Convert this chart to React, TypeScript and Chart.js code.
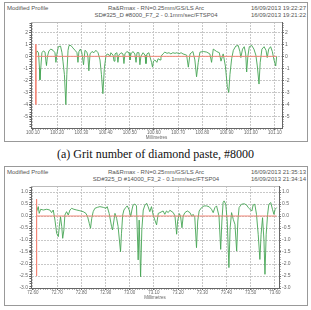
import React, { useEffect, useRef } from "react";
import { Chart, registerables } from "chart.js";

Chart.register(...registerables);

// ---------- texts ----------
const headerLeft = "Modified Profile";
const headerCenter1 = "Ra&Rmax - RN=0.25mm/GS/LS Arc";
const panel1Center2 = "SD#325_D #8000_F7_2 - 0.1mm/sec/FTSP04";
const panel1Times = ["16/09/2013 19:22:27", "16/09/2013 19:21:22"];
const panel2Center2 = "SD#325_D #14000_F3_2 - 0.1mm/sec/FTSP04";
const panel2Times = ["16/09/2013 21:35:13", "16/09/2013 21:34:14"];
const caption1 = "(a) Grit number of diamond paste, #8000";
const xAxisTitle = "Millimetres";

// ---------- ticks ----------
const xTicks1 = [100.1, 100.2, 100.3, 100.4, 100.5, 100.6, 100.7, 100.8, 100.9, 101.0, 101.1];
const yTicks1 = [2, 1, 0, -1, -2, -3, -4, -5];
const xTicks2 = [72.6, 72.7, 72.8, 72.9, 73.0, 73.1, 73.2, 73.3, 73.4, 73.5, 73.6];
const yTicks2 = [1, 0.5, 0, -0.5, -1, -1.5, -2, -2.5, -3];

// ---------- profile data: [position mm, height um] ----------
const profile1: [number, number][] = [
  [100.112, 0.1], [100.117, 0.45], [100.123, 0.3], [100.127, -1.0], [100.129, -1.95], [100.133, -0.8],
  [100.137, 0.3], [100.143, 0.45], [100.150, 0.35], [100.154, -0.5], [100.156, -0.75], [100.160, 0.0],
  [100.166, 0.45], [100.174, 0.6], [100.183, 0.5], [100.191, 0.3], [100.195, -0.5], [100.199, 0.2],
  [100.205, 0.8], [100.214, 0.85], [100.220, 0.3], [100.224, -0.4], [100.230, -1.5], [100.236, -4.0],
  [100.240, -1.5], [100.245, 0.5], [100.249, 0.9], [100.257, 0.9], [100.265, 0.7], [100.274, 0.5],
  [100.282, 0.3], [100.286, -0.5], [100.290, 0.4], [100.296, 0.6], [100.302, 0.3], [100.309, -0.7],
  [100.315, 0.5], [100.323, 0.35], [100.327, 0.0], [100.331, -1.2], [100.336, 0.2], [100.344, 0.4],
  [100.352, 0.3], [100.360, 0.5], [100.369, 0.3], [100.377, -0.3], [100.383, -1.5], [100.389, -3.1],
  [100.395, -1.0], [100.402, 0.1], [100.410, 0.2], [100.418, 0.0], [100.422, 0.3], [100.431, 0.1],
  [100.435, -0.4], [100.439, 0.2], [100.447, 0.3], [100.451, -0.5], [100.455, 0.1], [100.464, 0.3],
  [100.472, 0.2], [100.476, -0.6], [100.480, 0.2], [100.488, 0.4], [100.497, 0.3], [100.501, -0.3],
  [100.505, 0.2], [100.513, 0.4], [100.521, 0.2], [100.526, -0.5], [100.530, 0.3], [100.538, 0.3],
  [100.542, -0.7], [100.546, 0.0], [100.555, 0.3], [100.563, 0.1], [100.567, -0.6], [100.571, 0.2],
  [100.579, 0.3], [100.583, 0.0], [100.590, -0.5], [100.594, -0.9], [100.598, -0.4], [100.604, -0.3],
  [100.612, -0.5], [100.617, -0.2], [100.625, -0.3], [100.629, 0.0], [100.637, 0.2], [100.645, 0.35],
  [100.654, 0.25], [100.662, 0.3], [100.670, 0.2], [100.678, 0.3], [100.687, 0.25], [100.695, 0.3],
  [100.703, 0.2], [100.712, 0.3], [100.720, 0.2], [100.735, 0.1], [100.742, -0.9], [100.749, 0.2],
  [100.761, 0.4], [100.769, -0.3], [100.776, -1.7], [100.783, -0.5], [100.790, 0.35], [100.804, 0.4],
  [100.818, 0.35], [100.831, 0.2], [100.838, -0.5], [100.845, 0.6], [100.859, 0.4], [100.870, 0.3],
  [100.877, -0.4], [100.886, 0.2], [100.895, -0.8], [100.903, -2.5], [100.909, -3.0], [100.914, -1.5],
  [100.921, -0.2], [100.928, 0.5], [100.938, 0.85], [100.948, 0.9], [100.955, 0.4], [100.959, -0.1],
  [100.966, 0.6], [100.973, 0.8], [100.979, 0.2], [100.983, -1.3], [100.988, 0.0], [100.994, 0.8],
  [101.004, 0.9], [101.013, 0.6], [101.021, 0.1], [101.027, -0.8], [101.034, -2.3], [101.039, -0.5],
  [101.046, 0.6], [101.055, 0.8], [101.063, 0.5], [101.068, -0.1], [101.074, 0.6], [101.082, 0.8],
  [101.089, 0.4], [101.096, -0.3], [101.103, -0.8], [101.107, 0.0],
];

const profile2: [number, number][] = [
  [72.615, 0.18], [72.622, 0.39], [72.626, 0.11], [72.632, 0.28], [72.643, 0.25], [72.657, 0.28],
  [72.670, 0.25], [72.677, 0.14], [72.684, 0.25], [72.691, -0.17], [72.698, -0.72], [72.705, -0.86],
  [72.709, -0.44], [72.714, -0.03], [72.719, -0.44], [72.723, -0.93], [72.728, -0.58], [72.732, 0.04],
  [72.739, 0.18], [72.746, 0.04], [72.753, 0.25], [72.760, 0.32], [72.769, 0.28], [72.781, 0.25],
  [72.794, 0.22], [72.808, 0.18], [72.819, 0.11], [72.826, -0.03], [72.833, -0.31], [72.838, -0.51],
  [72.843, -0.1], [72.849, 0.18], [72.856, 0.32], [72.866, 0.36], [72.877, 0.39], [72.891, 0.36],
  [72.902, 0.32], [72.907, 0.39], [72.915, 0.11], [72.925, -0.44], [72.929, -0.58], [72.935, -0.17],
  [72.939, 0.11], [72.946, -0.1], [72.952, -0.44], [72.962, -1.49], [72.966, -0.72], [72.971, 0.04],
  [72.976, 0.25], [72.984, 0.36], [72.990, 0.42], [72.998, 0.25], [73.004, -0.03], [73.009, 0.25],
  [73.014, 0.46], [73.021, 0.5], [73.028, 0.42], [73.035, -1.83], [73.039, -0.17], [73.045, -2.53],
  [73.050, -0.58], [73.056, 0.25], [73.063, 0.46], [73.070, 0.53], [73.076, 0.39], [73.083, 0.18],
  [73.090, 0.39], [73.097, 0.04], [73.104, -0.17], [73.111, -0.37], [73.118, 0.11], [73.125, 0.14],
  [73.138, 0.21], [73.145, 0.07], [73.152, 0.21], [73.159, 0.14], [73.166, 0.24], [73.180, 0.14],
  [73.187, 0.0], [73.194, -0.76], [73.198, -0.21], [73.205, 0.1], [73.210, 0.0], [73.216, -0.49],
  [73.221, 0.0], [73.228, 0.14], [73.238, 0.21], [73.249, 0.14], [73.256, 0.0], [73.262, 0.07],
  [73.269, -0.07], [73.276, -1.32], [73.281, -0.21], [73.287, 0.21], [73.297, 0.35], [73.307, 0.42],
  [73.318, 0.42], [73.329, 0.38], [73.338, 0.28], [73.345, 0.14], [73.352, 0.35], [73.359, 0.42],
  [73.369, 0.0], [73.376, -1.39], [73.381, -0.21], [73.386, 0.56], [73.390, 0.63], [73.397, 0.49],
  [73.403, -0.21], [73.410, -2.15], [73.415, -0.49], [73.421, 0.14], [73.428, -0.14], [73.435, -0.35],
  [73.442, -1.46], [73.447, -0.21], [73.452, 0.35], [73.462, 0.49], [73.473, 0.51], [73.483, 0.46],
  [73.490, 0.35], [73.497, 0.28], [73.505, 0.21], [73.510, 0.46], [73.517, 0.49], [73.524, 0.07],
  [73.531, -0.76], [73.538, -1.81], [73.543, -0.76], [73.549, -0.07], [73.555, -1.04], [73.559, -2.43],
  [73.564, -0.76], [73.570, 0.07], [73.575, 0.49], [73.583, 0.56], [73.590, 0.28], [73.596, 0.07],
  [73.601, 0.28], [73.607, 0.35],
];

// reference (red) lines: start position, vertical extent, end of zero line
const ref1 = { x: 100.112, top: 1.0, bottom: -4.0, end: 101.107 };
const ref2 = { x: 72.615, top: 0.7, bottom: -2.5, end: 73.607 };

// ---------- chart styling ----------
const GREEN = "rgb(70,165,85)";
const RED = "rgb(242,135,120)";
const AXIS = "#666";
const GRID = "#c8c8c8";
const TICKFONT = "'Liberation Sans', Arial, sans-serif";

const minorTicks = {
  id: "minorTicks",
  afterDraw(chart: any, _args: any, opts: any) {
    const ctx = chart.ctx;
    ctx.save();
    ctx.strokeStyle = AXIS;
    ctx.lineWidth = 1;
    const draw = (scale: any, step: number, side: string) => {
      if (!scale) return;
      const lo = Math.min(scale.min, scale.max);
      const hi = Math.max(scale.min, scale.max);
      const k0 = Math.ceil(lo / step - 1e-6);
      const k1 = Math.floor(hi / step + 1e-6);
      ctx.beginPath();
      for (let k = k0; k <= k1; k++) {
        const v = k * step;
        const p = Math.round(scale.getPixelForValue(v)) + 0.5;
        if (side === "bottom") {
          ctx.moveTo(p, scale.top);
          ctx.lineTo(p, scale.top + 1.5);
        } else if (side === "left") {
          ctx.moveTo(scale.right, p);
          ctx.lineTo(scale.right - 1.5, p);
        } else {
          ctx.moveTo(scale.left, p);
          ctx.lineTo(scale.left + 1.5, p);
        }
      }
      ctx.stroke();
    };
    draw(chart.scales.x, opts.xStep, "bottom");
    draw(chart.scales.y, opts.yStep, "left");
    draw(chart.scales.y2, opts.yStep, "right");
    const a = chart.chartArea;
    ctx.strokeStyle = "#bbb";
    ctx.beginPath();
    ctx.moveTo(a.left, a.top + 0.5);
    ctx.lineTo(a.right, a.top + 0.5);
    ctx.stroke();
    ctx.restore();
  },
};

type PanelCfg = {
  data: [number, number][];
  ref: { x: number; top: number; bottom: number; end: number };
  xTicks: number[];
  yTicks: number[];
  xMin: number;
  xMax: number;
  yMin: number;
  yMax: number;
  yDecimals: number;
  leftW: number;
  rightW: number;
  bottomH: number;
  titlePad: number;
  yStep: number;
};

function ProfileChart({ cfg, width, height }: { cfg: PanelCfg; width: number; height: number }) {
  const ref = useRef<HTMLCanvasElement | null>(null);
  useEffect(() => {
    if (!ref.current) return;
    const tickSet = (ticks: number[]) => (scale: any) => {
      scale.ticks = ticks.map((v) => ({ value: v }));
    };
    const yFmt = (v: any) => Number(v).toFixed(cfg.yDecimals);
    const chart = new Chart(ref.current, {
      type: "scatter",
      data: {
        datasets: [
          {
            data: [
              { x: cfg.ref.x, y: 0 },
              { x: cfg.ref.end, y: 0 },
            ],
            showLine: true,
            borderColor: RED,
            borderWidth: 1,
            pointRadius: 0,
            yAxisID: "y",
          },
          {
            data: [
              { x: cfg.ref.x, y: cfg.ref.top },
              { x: cfg.ref.x, y: cfg.ref.bottom },
            ],
            showLine: true,
            borderColor: RED,
            borderWidth: 1,
            pointRadius: 0,
            yAxisID: "y",
          },
          {
            data: cfg.data.map(([x, y]) => ({ x, y })),
            showLine: true,
            borderColor: GREEN,
            borderWidth: 0.9,
            pointRadius: 0,
            tension: 0,
            yAxisID: "y",
          },
        ],
      },
      options: {
        animation: false,
        responsive: false,
        events: [],
        layout: { padding: { top: 4, left: 0, right: 0, bottom: 0 } },
        plugins: {
          legend: { display: false },
          tooltip: { enabled: false },
          minorTicks: { xStep: 0.01, yStep: cfg.yStep },
        } as any,
        scales: {
          x: {
            type: "linear",
            min: cfg.xMin,
            max: cfg.xMax,
            afterBuildTicks: tickSet(cfg.xTicks),
            afterFit: (s: any) => {
              s.height = cfg.bottomH;
            },
            ticks: {
              autoSkip: false,
              maxRotation: 0,
              padding: 0,
              color: "#666",
              font: { size: 4.5, family: TICKFONT },
              callback: (v: any) => Number(v).toFixed(2),
            },
            grid: { color: GRID, tickLength: 2, tickColor: AXIS },
            border: { color: AXIS, dash: [2, 1] },
            title: {
              display: true,
              text: xAxisTitle,
              color: "#666",
              font: { size: 4.5, family: TICKFONT },
              padding: { top: 0, bottom: cfg.titlePad },
            },
          },
          y: {
            type: "linear",
            position: "left",
            min: cfg.yMin,
            max: cfg.yMax,
            afterBuildTicks: tickSet(cfg.yTicks),
            afterFit: (s: any) => {
              s.width = cfg.leftW;
            },
            ticks: {
              padding: 1,
              color: "#666",
              font: { size: 5, family: TICKFONT },
              callback: yFmt,
            },
            grid: { color: GRID, tickLength: 2, tickColor: AXIS },
            border: { color: AXIS, dash: [2, 1] },
          },
          y2: {
            type: "linear",
            position: "right",
            min: cfg.yMin,
            max: cfg.yMax,
            afterBuildTicks: tickSet(cfg.yTicks),
            afterFit: (s: any) => {
              s.width = cfg.rightW;
            },
            ticks: {
              padding: 1,
              color: "#666",
              font: { size: 5, family: TICKFONT },
              callback: yFmt,
            },
            grid: { drawOnChartArea: false, tickLength: 2, tickColor: AXIS },
            border: { color: AXIS },
          },
        },
      },
      plugins: [minorTicks],
    });
    return () => chart.destroy();
  }, []);
  return <canvas ref={ref} width={width} height={height} style={{ width, height, display: "block" }} />;
}

const panel1: PanelCfg = {
  data: profile1,
  ref: ref1,
  xTicks: xTicks1,
  yTicks: yTicks1,
  xMin: 100.092,
  xMax: 101.129,
  yMin: -5.95,
  yMax: 2.85,
  yDecimals: 0,
  leftW: 27,
  rightW: 26,
  bottomH: 14,
  titlePad: 2,
  yStep: 0.2,
};

const panel2: PanelCfg = {
  data: profile2,
  ref: ref2,
  xTicks: xTicks2,
  yTicks: yTicks2,
  xMin: 72.592,
  xMax: 73.617,
  yMin: -3.0,
  yMax: 1.25,
  yDecimals: 1,
  leftW: 27,
  rightW: 29,
  bottomH: 17,
  titlePad: 5,
  yStep: 0.1,
};

const headerFont: React.CSSProperties = {
  position: "absolute",
  fontFamily: TICKFONT,
  fontSize: 6,
  lineHeight: "7px",
  color: "#555",
  whiteSpace: "nowrap",
};

function Header({ top, center2, times }: { top: number; center2: string; times: string[] }) {
  return (
    <>
      <div style={{ ...headerFont, left: 7, top }}>{headerLeft}</div>
      <div style={{ ...headerFont, left: 56, width: 200, top, textAlign: "center" }}>{headerCenter1}</div>
      <div style={{ ...headerFont, left: 56, width: 200, top: top + 7, textAlign: "center" }}>{center2}</div>
      <div style={{ ...headerFont, right: 5, top, textAlign: "right" }}>{times[0]}</div>
      <div style={{ ...headerFont, right: 5, top: top + 7, textAlign: "right" }}>{times[1]}</div>
    </>
  );
}

export default function App() {
  return (
    <div
      style={{
        position: "fixed",
        left: 0,
        top: 0,
        width: 311,
        height: 310,
        background: "#fff",
        overflow: "hidden",
      }}
    >
      <div
        style={{
          position: "absolute",
          left: 4,
          top: 2,
          width: 304,
          height: 140,
          border: "1px solid #999",
          boxSizing: "border-box",
        }}
      />
      <Header top={5} center2={panel1Center2} times={panel1Times} />
      <div style={{ position: "absolute", left: 4, top: 18 }}>
        <ProfileChart cfg={panel1} width={304} height={124} />
      </div>
      <div
        style={{
          position: "absolute",
          left: 0,
          width: 311,
          top: 147,
          textAlign: "center",
          fontFamily: "'Liberation Serif', 'Times New Roman', serif",
          fontSize: 12,
          lineHeight: "14px",
          color: "#111",
        }}
      >
        {caption1}
      </div>
      <div
        style={{
          position: "absolute",
          left: 4,
          top: 166,
          width: 304,
          height: 140,
          border: "1px solid #999",
          boxSizing: "border-box",
        }}
      />
      <Header top={169} center2={panel2Center2} times={panel2Times} />
      <div style={{ position: "absolute", left: 4, top: 182 }}>
        <ProfileChart cfg={panel2} width={304} height={123} />
      </div>
    </div>
  );
}
